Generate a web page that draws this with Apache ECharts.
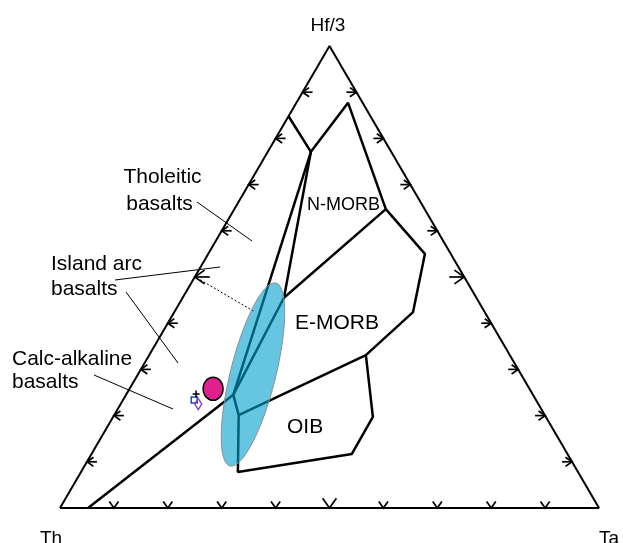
<!DOCTYPE html>
<html>
<head>
<meta charset="utf-8">
<script src="https://cdn.jsdelivr.net/npm/echarts@6/dist/echarts.min.js"></script>
<style>
  html, body { margin: 0; padding: 0; background: #fff; }
  #main { width: 623px; height: 543px; }
</style>
</head>
<body>
<div id="main"></div>
<script>
// all points are ternary compositions [Th, Hf/3, Ta] in %
const outline = [[100, 0, 0], [0, 100, 0], [0, 0, 100], [100, 0, 0]];
const nmorbTop = [[15.2, 84.8, 0], [14.9, 77.1, 8.0], [2.7, 87.7, 9.6], [7.2, 64.7, 28.1]];
const outerBoundary = [[7.2, 64.7, 28.1], [4.8, 55.0, 40.2], [13.3, 42.4, 44.3], [26.7, 33.1, 40.2],
  [32.1, 19.7, 48.2], [40.0, 11.7, 48.3], [63.1, 7.8, 29.1], [56.8, 20.1, 23.1],
  [55.6, 24.5, 19.9], [94.8, 0, 5.2]];
const emorbOibLine = [[26.7, 33.1, 40.2], [56.8, 20.1, 23.1]];
const nmorbEmorbLine = [[7.2, 64.7, 28.1], [35.7, 45.5, 18.8]];
const arcLineA = [[14.9, 77.1, 8.0], [55.6, 24.5, 19.9]];
const arcLineB = [[14.9, 77.1, 8.0], [35.7, 45.5, 18.8], [55.6, 24.5, 19.9]];
const guideLine = [[49.3, 49.4, 1.3], [42.6, 42.4, 15.0]];
const ellipseAxis = [[35.6, 48.7, 15.7], [63.9, 9.1, 27.0]];
const ellipseRatio = 0.24; // minor / major
const sampleCircle = [[58.7, 25.8, 15.5]];
const sampleSquare = [[63.4, 23.4, 13.2]];
const sampleCross = [[62.4, 24.7, 12.9]];
const sampleDiamond = [[63.1, 22.5, 14.4]];
const tickValues = [10, 20, 30, 40, 50, 60, 70, 80, 90];

// ternary -> cartesian (x along Th-Ta, y towards Hf/3)
function xy(p) {
  return [(p[2] + p[1] / 2) / 100, p[1] / 100];
}

const chart = echarts.init(document.getElementById('main'), null, { renderer: 'canvas' });

const FONT = '"Liberation Sans", Arial, sans-serif';

function fieldLine(points, width) {
  return {
    type: 'line',
    data: points.map(xy),
    symbol: 'none',
    silent: true,
    lineStyle: { color: '#000', width: width || 2.5 },
    z: 3
  };
}

// tick data : [x, y, side, value]   side 0 = left edge, 1 = right edge, 2 = base
const tickData = [];
tickValues.forEach(v => {
  tickData.push(xy([100 - v, v, 0]).concat([0, v]));
  tickData.push(xy([0, v, 100 - v]).concat([1, v]));
  tickData.push(xy([100 - v, 0, v]).concat([2, v]));
});

function renderTick(params, api) {
  const tip = api.coord([api.value(0), api.value(1)]);
  const side = api.value(2);
  const big = api.value(3) === 50;
  const d = side === 0 ? [1, 0] : side === 1 ? [-1, 0] : [0, -1];
  const ang = 35 * Math.PI / 180;
  const arm = big ? 12 : 8;
  const shaft = big ? 15 : 10;
  const rot = (v, a) => [v[0] * Math.cos(a) - v[1] * Math.sin(a), v[0] * Math.sin(a) + v[1] * Math.cos(a)];
  const a1 = rot(d, ang), a2 = rot(d, -ang);
  const children = [{
    type: 'polyline',
    shape: { points: [[tip[0] + a1[0] * arm, tip[1] + a1[1] * arm], tip, [tip[0] + a2[0] * arm, tip[1] + a2[1] * arm]] },
    style: { stroke: '#000', lineWidth: 1.7, fill: null }
  }];
  if (side !== 2) {
    children.push({
      type: 'line',
      shape: { x1: tip[0], y1: tip[1], x2: tip[0] + d[0] * shaft, y2: tip[1] + d[1] * shaft },
      style: { stroke: '#000', lineWidth: 1.7 }
    });
  }
  return { type: 'group', children: children };
}

function renderEllipse(params, api) {
  const a = api.coord([api.value(0), api.value(1)]);
  const b = api.coord([api.value(2), api.value(3)]);
  const cx = (a[0] + b[0]) / 2, cy = (a[1] + b[1]) / 2;
  const dx = (a[0] - b[0]) / 2, dy = (a[1] - b[1]) / 2;
  const L = Math.hypot(dx, dy);
  const W = L * ellipseRatio;
  const ux = dx / L, uy = dy / L, vx = -uy, vy = ux;
  const pts = [];
  for (let i = 0; i < 120; i++) {
    const t = i / 120 * Math.PI * 2;
    pts.push([cx + ux * L * Math.cos(t) + vx * W * Math.sin(t), cy + uy * L * Math.cos(t) + vy * W * Math.sin(t)]);
  }
  return {
    type: 'polygon',
    shape: { points: pts },
    style: { fill: 'rgba(0,160,205,0.6)', stroke: '#8c8c8c', lineWidth: 1 }
  };
}

function text(str, x, y, size, align) {
  return {
    type: 'text', x: x, y: y, silent: true,
    style: {
      text: str, fill: '#000', font: size + 'px ' + FONT,
      textAlign: align || 'left', textVerticalAlign: 'middle',
      align: align || 'left', verticalAlign: 'middle'
    }
  };
}
function leader(x1, y1, x2, y2) {
  return { type: 'line', silent: true, shape: { x1, y1, x2, y2 }, style: { stroke: '#000', lineWidth: 1 } };
}

const option = {
  animation: false,
  grid: { left: 60, top: 46, width: 539, height: 462 },
  xAxis: { type: 'value', min: 0, max: 1, show: false },
  yAxis: { type: 'value', min: 0, max: 1, show: false },
  series: [
    fieldLine(outline, 2),
    fieldLine(nmorbTop),
    fieldLine(outerBoundary),
    fieldLine(emorbOibLine),
    fieldLine(nmorbEmorbLine),
    fieldLine(arcLineA),
    fieldLine(arcLineB),
    {
      type: 'line', data: guideLine.map(xy), symbol: 'none', silent: true,
      lineStyle: { color: '#000', width: 1, type: [2, 2] }, z: 3
    },
    {
      type: 'custom', renderItem: renderTick, data: tickData, silent: true, z: 4,
      encode: { x: 0, y: 1 }
    },
    {
      type: 'custom', renderItem: renderEllipse, silent: true, z: 5,
      data: [xy(ellipseAxis[0]).concat(xy(ellipseAxis[1]))],
      encode: { x: [0, 2], y: [1, 3] }
    },
    {
      type: 'scatter', data: sampleCircle.map(xy), symbol: 'circle', symbolSize: [20, 23], silent: true, z: 6,
      itemStyle: { color: '#E0208C', borderColor: '#000', borderWidth: 1.5, opacity: 1 }
    },
    {
      type: 'scatter', data: sampleSquare.map(xy), symbol: 'rect', symbolSize: 6, silent: true, z: 6,
      itemStyle: { color: '#fff', borderColor: '#2244bb', borderWidth: 1.5, opacity: 1 }
    },
    {
      type: 'scatter', data: sampleDiamond.map(xy), symbol: 'diamond', symbolSize: [7, 11], silent: true, z: 7,
      itemStyle: { color: 'rgba(255,255,255,0)', borderColor: '#8a3fc8', borderWidth: 1.5, opacity: 1 }
    },
    {
      type: 'scatter', data: sampleCross.map(xy), symbol: 'path://M0,5L10,5M5,0L5,10', symbolSize: 7, silent: true, z: 7,
      itemStyle: { color: 'rgba(0,0,0,0)', borderColor: '#000', borderWidth: 1.5, opacity: 1 }
    }
  ],
  graphic: [
    text('Hf/3', 328, 26, 19, 'center'),
    text('Th', 40, 539, 19),
    text('Ta', 599, 539, 19),
    text('Tholeitic', 162.5, 177.5, 21, 'center'),
    text('basalts', 159.5, 204.5, 21, 'center'),
    text('Island arc', 51, 264.5, 21),
    text('basalts', 51, 289.5, 21),
    text('Calc-alkaline', 12, 359.5, 21),
    text('basalts', 12, 382, 21),
    text('N-MORB', 307, 205, 18),
    text('E-MORB', 295, 323.5, 21),
    text('OIB', 287, 427.5, 21),
    leader(197, 202, 252, 241),
    leader(115, 280, 220, 267),
    leader(126, 292, 178, 363),
    leader(94, 375, 173, 409)
  ]
};

chart.setOption(option);
window.addEventListener('resize', () => chart.resize());
</script>
</body>
</html>
